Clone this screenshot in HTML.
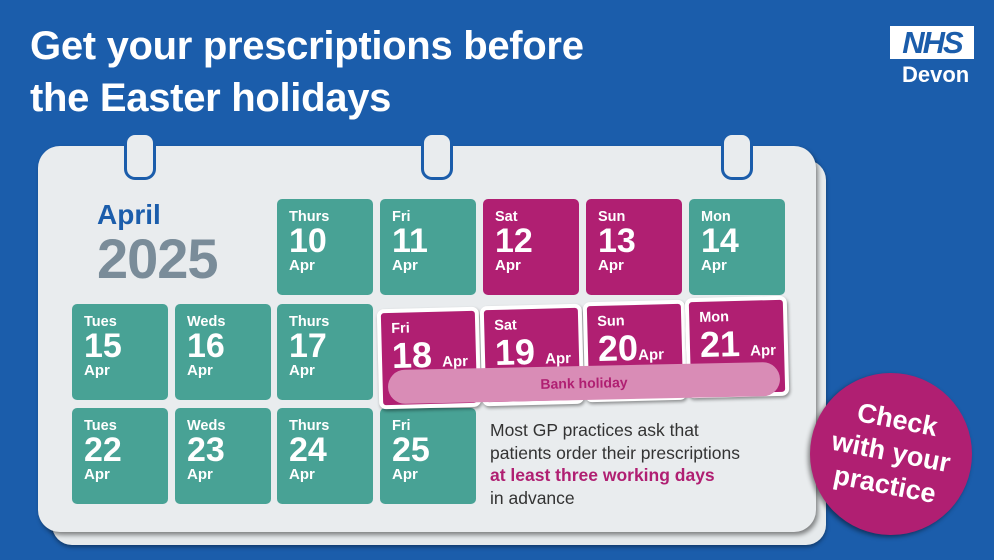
<!DOCTYPE html>
<html><head><meta charset="utf-8"><style>
*{margin:0;padding:0;box-sizing:border-box}
body{width:994px;height:560px;background:#1b5dab;position:relative;overflow:hidden;font-family:"Liberation Sans",sans-serif;font-weight:bold}
.title{position:absolute;left:30px;top:20px;color:#fff;font-size:40px;line-height:52px;letter-spacing:-0.3px}
.nhs{position:absolute;left:890px;top:26px;width:84px;height:33px;background:#fff;color:#1b5dab;font-size:31px;font-style:italic;line-height:33px;text-align:center;letter-spacing:-2px}
.devon{position:absolute;left:902px;top:62px;color:#fff;font-size:22px}
.back{position:absolute;left:52px;top:160px;width:774px;height:385px;background:#e6eaec;border-radius:20px;box-shadow:0 2px 4px rgba(0,0,0,.4)}
.card{position:absolute;left:38px;top:146px;width:778px;height:386px;background:#e9ecee;border-radius:22px;box-shadow:2px 3px 5px rgba(0,0,0,.45)}
.ring{position:absolute;width:32px;height:48px;border:3px solid #1b5dab;border-radius:11px;background:#e9ecee;top:132px}
.t{position:absolute;width:96px;height:96px;border-radius:5px;color:#fff;padding:10px 0 0 12px}
.g{background:#48a295}.m{background:#b01f72;color:#fff}
.d{font-size:14.5px;line-height:16px}
.n{font-size:34px;line-height:32px}
.a{font-size:15px;line-height:18px}
.tilt{position:absolute;border:4px solid #fff;border-radius:7px;box-shadow:1px 2px 3px rgba(0,0,0,.4);width:102px;height:100px;padding:8px 0 0 10px;color:#fff}
.tilt .n{font-size:36px;line-height:38px}
.tilt .a{font-size:15px}
.bank{position:absolute;left:388px;top:366px;width:392px;height:34px;background:#d98cb6;border-radius:17px;color:#b01f72;font-size:14px;text-align:center;line-height:34px;transform:rotate(-1.2deg)}
.txt{position:absolute;left:490px;top:419px;font-size:17.5px;line-height:22.5px;color:#333;font-weight:normal}
.txt b{color:#b01f72}
.circle{position:absolute;left:810px;top:373px;width:162px;height:162px;border-radius:50%;background:#b01f72;box-shadow:-2px 2px 5px rgba(0,0,0,.45)}
.circle div{position:absolute;left:0;top:30px;width:162px;text-align:center;color:#fff;font-size:27px;line-height:33px;transform:rotate(11deg)}
</style></head><body>
<div class="title">Get your prescriptions before<br>the Easter holidays</div>
<div class="nhs">NHS</div>
<div class="devon">Devon</div>
<div class="back"></div>
<div class="card"></div>
<div class="ring" style="left:124px"></div>
<div class="ring" style="left:421px"></div>
<div class="ring" style="left:721px"></div>
<div style="position:absolute;left:97px;top:199px;color:#1b5dab;font-size:28px">April</div>
<div style="position:absolute;left:97px;top:226px;color:#7a8c99;font-size:56px;letter-spacing:-1px">2025</div>

<div class="t g" style="left:277px;top:199px"><div class="d">Thurs</div><div class="n">10</div><div class="a">Apr</div></div>
<div class="t g" style="left:380px;top:199px"><div class="d">Fri</div><div class="n">11</div><div class="a">Apr</div></div>
<div class="t m" style="left:483px;top:199px"><div class="d">Sat</div><div class="n">12</div><div class="a">Apr</div></div>
<div class="t m" style="left:586px;top:199px"><div class="d">Sun</div><div class="n">13</div><div class="a">Apr</div></div>
<div class="t g" style="left:689px;top:199px"><div class="d">Mon</div><div class="n">14</div><div class="a">Apr</div></div>

<div class="t g" style="left:72px;top:304px"><div class="d">Tues</div><div class="n">15</div><div class="a">Apr</div></div>
<div class="t g" style="left:175px;top:304px"><div class="d">Weds</div><div class="n">16</div><div class="a">Apr</div></div>
<div class="t g" style="left:277px;top:304px"><div class="d">Thurs</div><div class="n">17</div><div class="a">Apr</div></div>

<div class="t g" style="left:72px;top:408px"><div class="d">Tues</div><div class="n">22</div><div class="a">Apr</div></div>
<div class="t g" style="left:175px;top:408px"><div class="d">Weds</div><div class="n">23</div><div class="a">Apr</div></div>
<div class="t g" style="left:277px;top:408px"><div class="d">Thurs</div><div class="n">24</div><div class="a">Apr</div></div>
<div class="t g" style="left:380px;top:408px"><div class="d">Fri</div><div class="n">25</div><div class="a">Apr</div></div>

<div class="tilt m" style="left:378px;top:308px;transform:rotate(-1.5deg)"><div class="d">Fri</div><div class="n">18 <span class="a">Apr</span></div></div>
<div class="tilt m" style="left:481px;top:305px;transform:rotate(-1.5deg)"><div class="d">Sat</div><div class="n">19 <span class="a">Apr</span></div></div>
<div class="tilt m" style="left:584px;top:301px;transform:rotate(-1.5deg)"><div class="d">Sun</div><div class="n">20<span class="a">Apr</span></div></div>
<div class="tilt m" style="left:686px;top:297px;transform:rotate(-1.5deg)"><div class="d">Mon</div><div class="n">21 <span class="a">Apr</span></div></div>
<div class="bank">Bank holiday</div>

<div class="txt">Most GP practices ask that<br>patients order their prescriptions<br><b>at least three working days</b><br>in advance</div>
<div class="circle"><div>Check<br>with your<br>practice</div></div>
</body></html>
